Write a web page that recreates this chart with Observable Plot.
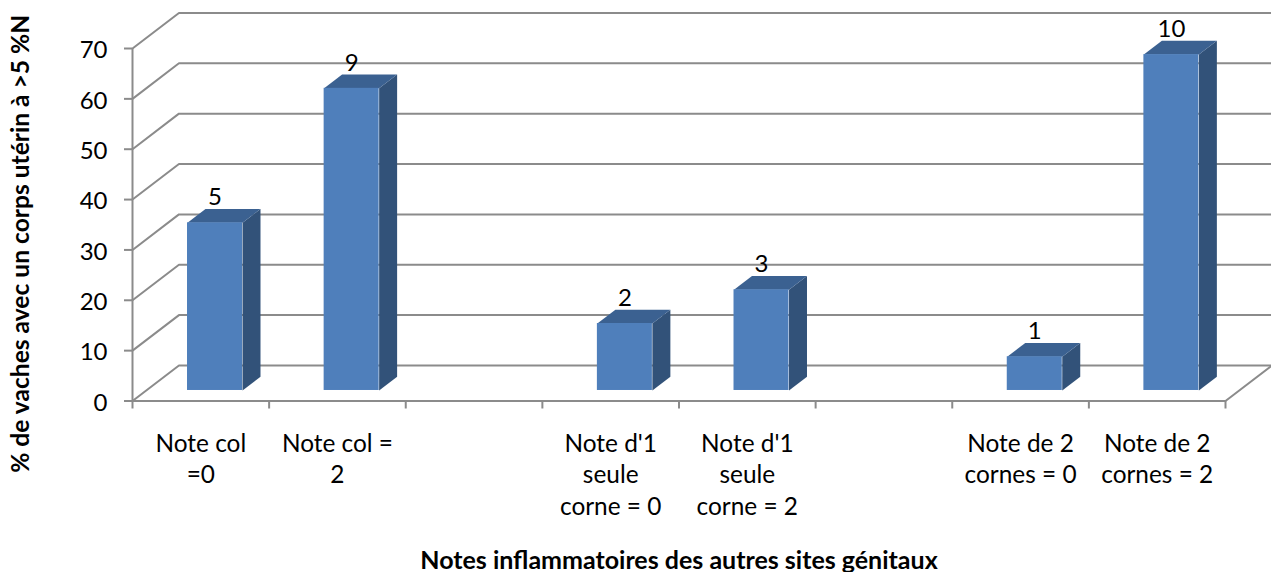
<!DOCTYPE html>
<html>
<head>
<meta charset="utf-8">
<script src="https://cdn.jsdelivr.net/npm/d3@7"></script>
<script src="https://cdn.jsdelivr.net/npm/@observablehq/plot@0.6"></script>
<style>html,body{margin:0;padding:0;background:#fff}svg{display:block}</style>
</head>
<body>
<div id="chart"></div>
<script>
const slots = [0, 1, 3, 4, 6, 7];
const categories = ["Note col\n=0", "Note col =\n2", "Note d'1\nseule\ncorne = 0", "Note d'1\nseule\ncorne = 2", "Note de 2\ncornes = 0", "Note de 2\ncornes = 2"];
const percents = [33.3, 60, 13.3, 20, 6.7, 66.7];
const counts = ["5", "9", "2", "3", "1", "10"];
const yTicks = [0, 10, 20, 30, 40, 50, 60, 70];
const xTicks = [0, 1, 2, 3, 4, 5, 6, 7, 8];
const xTitle = "Notes inflammatoires des autres sites génitaux";
const yTitle = "% de vaches avec un corps utérin à >5 %N";

// Oblique projection of the chart's depth, in data units
const wallX = 0.34, wallY = 7.06;
const barGap = 0.302, barW = 0.4026;
const barNear = 0.296, barDeep = 0.387;

const FONT = "Lato, sans-serif";
const GRID = "#8b8b8b";
const LINE_W = 2;

const P = (x, y, d) => ({x: x + d * wallX, y: y + d * wallY});

const gridRows = yTicks.flatMap(t => [P(0, t, 0), P(0, t, 1), P(8, t, 1)].map(p => ({...p, k: t})));
const floorRows = [P(8, 0, 0), P(8, 0, 1)].map(p => ({...p, k: "floor"}));

const bars = slots.map((s, i) => ({
  l: s + barGap, r: s + barGap + barW, v: percents[i], s, label: categories[i], n: counts[i], i
}));
const sideRows = bars.flatMap(b => [
  P(b.r, 0, barNear), P(b.r, 0, barNear + barDeep), P(b.r, b.v, barNear + barDeep), P(b.r, b.v, barNear)
].map(p => ({...p, k: b.i})));
const topRows = bars.flatMap(b => [
  P(b.l, b.v, barNear), P(b.r, b.v, barNear), P(b.r, b.v, barNear + barDeep), P(b.l, b.v, barNear + barDeep)
].map(p => ({...p, k: b.i})));

const chart = Plot.plot({
  width: 1271,
  height: 572,
  marginLeft: 132,
  marginRight: 46,
  marginTop: 48,
  marginBottom: 171.5,
  style: {fontFamily: FONT, background: "#fff", overflow: "visible"},
  x: {domain: [0, 8], axis: null},
  y: {domain: [0, 70], axis: null},
  marks: [
    Plot.line(gridRows, {x: "x", y: "y", z: "k", stroke: GRID, strokeWidth: LINE_W, curve: "linear"}),
    Plot.line(floorRows, {x: "x", y: "y", z: "k", stroke: GRID, strokeWidth: LINE_W, curve: "linear"}),
    Plot.ruleX([0], {y1: 0, y2: 70, stroke: GRID, strokeWidth: LINE_W}),
    Plot.ruleY([0], {x1: 0, x2: 8, stroke: GRID, strokeWidth: LINE_W}),
    Plot.axisY({
      ticks: yTicks, tickSize: 8, label: null, tickFormat: () => "",
      stroke: GRID, strokeWidth: LINE_W
    }),
    Plot.text(yTicks, {
      y: d => d, text: d => String(d), frameAnchor: "left", textAnchor: "end",
      dx: -25, dy: 2, fontSize: 24, fill: "#000"
    }),
    Plot.axisX({
      ticks: xTicks, tickSize: 8, label: null, tickFormat: () => "", stroke: GRID, strokeWidth: LINE_W
    }),
    Plot.line(sideRows, {x: "x", y: "y", z: "k", fill: "#325279", stroke: "none", curve: "linear"}),
    Plot.line(topRows, {x: "x", y: "y", z: "k", fill: "#3b6191", stroke: "none", curve: "linear"}),
    Plot.rect(bars, {
      x1: d => P(d.l, 0, barNear).x, x2: d => P(d.r, 0, barNear).x,
      y1: d => P(0, 0, barNear).y, y2: d => P(0, d.v, barNear).y,
      fill: "#4f7fbb"
    }),
    Plot.text(bars, {
      x: d => P((d.l + d.r) / 2, 0, barNear).x, y: d => P(0, d.v, barNear).y,
      text: "n", dy: -25, fontSize: 24, fill: "#000"
    }),
    Plot.text(bars, {
      x: d => d.s + 0.5, text: "label", frameAnchor: "bottom", lineAnchor: "top",
      dy: 28, fontSize: 24.4, lineHeight: 1.3, fill: "#000", lineWidth: 100
    }),
    Plot.text([xTitle], {
      x: () => 4, frameAnchor: "bottom", lineAnchor: "middle", dy: 160,
      fontSize: 25, fontWeight: "bold", fill: "#000"
    }),
    Plot.text([yTitle], {
      y: () => 31.2, frameAnchor: "left", textAnchor: "middle", rotate: -90, dx: -111,
      fontSize: 24.6, fontWeight: "bold", fill: "#000"
    })
  ]
});
document.getElementById("chart").append(chart);
</script>
</body>
</html>
